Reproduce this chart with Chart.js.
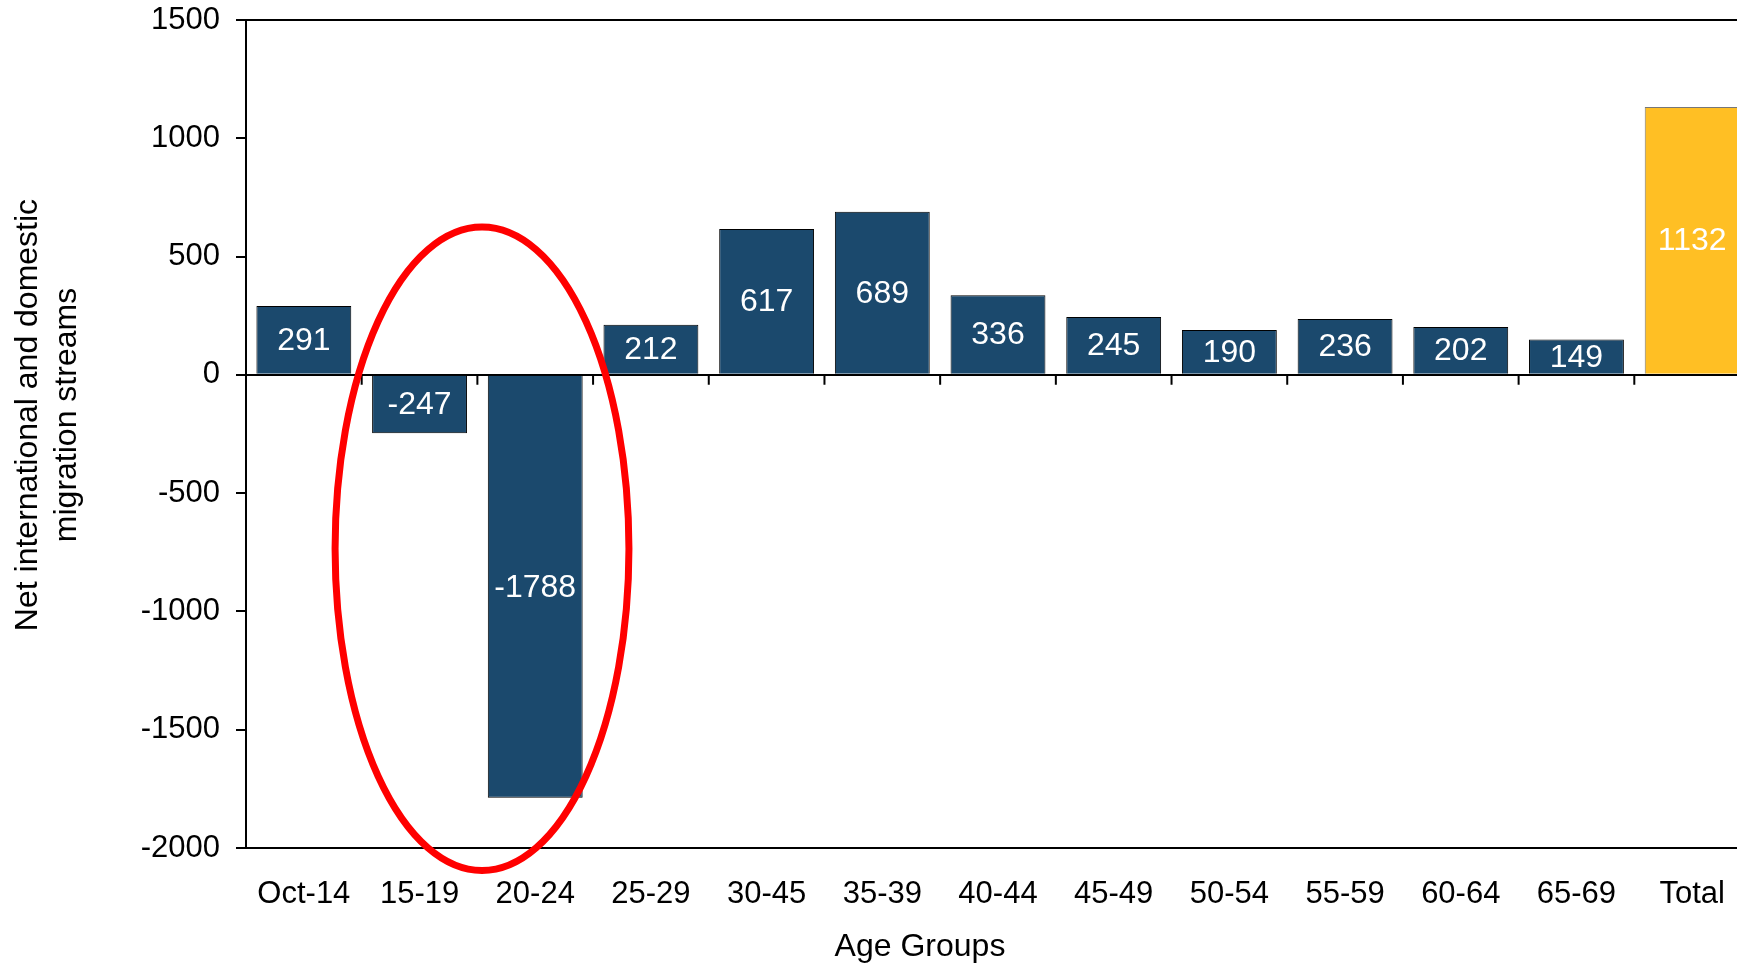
<!DOCTYPE html>
<html>
<head>
<meta charset="utf-8">
<script src="https://cdn.jsdelivr.net/npm/chart.js@4.4.0/dist/chart.umd.min.js"></script>
<style>
  html, body { margin: 0; padding: 0; background: #fff; overflow: hidden; }
  #wrap { width: 1750px; height: 966px; }
</style>
</head>
<body>
<div id="wrap"><canvas id="migrationChart"></canvas></div>
<script>
const ageGroups = ["Oct-14", "15-19", "20-24", "25-29", "30-45", "35-39", "40-44",
  "45-49", "50-54", "55-59", "60-64", "65-69", "Total"];
const netMigration = [291, -247, -1788, 212, 617, 689, 336, 245, 190, 236, 202, 149, 1132];
const yMin = -2000;
const yMax = 1500;
const yStep = 500;

// red ring round the 15-19 / 20-24 bars, in category index and value units
const ringCenter = [1.54, -735];
const ringRadius = [1.27, 1360];

const FONT = '"Liberation Sans", Arial, sans-serif';
Chart.defaults.font.family = FONT;
Chart.defaults.color = '#000';

const barLabels = {
  id: 'barLabels',
  afterDatasetsDraw(chart) {
    const ctx = chart.ctx;
    const meta = chart.getDatasetMeta(0);
    ctx.save();
    ctx.fillStyle = '#fff';
    ctx.font = '32px ' + FONT;
    ctx.textAlign = 'center';
    ctx.textBaseline = 'middle';
    meta.data.forEach((bar, i) => {
      const c = bar.getCenterPoint();
      ctx.fillText(String(netMigration[i]), c.x, c.y + 1);
    });
    ctx.restore();
  }
};

// category tick marks hang down from the zero line
const zeroTicks = {
  id: 'zeroTicks',
  afterDatasetsDraw(chart) {
    const { ctx, scales: { x, y } } = chart;
    const y0 = y.getPixelForValue(0);
    ctx.save();
    ctx.strokeStyle = '#000';
    ctx.lineWidth = 2;
    ctx.beginPath();
    for (let i = 1; i < ageGroups.length; i++) {
      const px = (x.getPixelForValue(i - 1) + x.getPixelForValue(i)) / 2;
      ctx.moveTo(px, y0);
      ctx.lineTo(px, y0 + 10);
    }
    ctx.stroke();
    ctx.restore();
  }
};

const ring = {
  id: 'ring',
  afterDatasetsDraw(chart) {
    const { ctx, scales: { x, y } } = chart;
    const cx = x.getPixelForValue(ringCenter[0]);
    const cy = y.getPixelForValue(ringCenter[1]);
    const rx = x.getPixelForValue(ringCenter[0] + ringRadius[0]) - cx;
    const ry = cy - y.getPixelForValue(ringCenter[1] + ringRadius[1]);
    ctx.save();
    ctx.strokeStyle = '#ff0000';
    ctx.lineWidth = 7;
    ctx.beginPath();
    ctx.ellipse(cx, cy, rx, ry, 0, 0, Math.PI * 2);
    ctx.stroke();
    ctx.restore();
  }
};

// axis titles sit off-centre in the original, so they are placed by hand
const axisTitles = {
  id: 'axisTitles',
  afterDraw(chart) {
    const { ctx, chartArea } = chart;
    ctx.save();
    ctx.fillStyle = '#000';
    ctx.font = '32px ' + FONT;
    ctx.textAlign = 'center';
    ctx.textBaseline = 'middle';
    ctx.fillText('Age Groups', chartArea.left + 674, 947);
    ctx.translate(28, 415);
    ctx.rotate(-Math.PI / 2);
    ctx.fillText('Net international and domestic', 0, 0);
    ctx.fillText('migration streams', 0, 39);
    ctx.restore();
  }
};

const ctx = document.getElementById('migrationChart').getContext('2d');
new Chart(ctx, {
  type: 'bar',
  data: {
    labels: ageGroups,
    datasets: [{
      data: netMigration,
      backgroundColor: c => c.dataIndex === ageGroups.length - 1 ? '#FFBF24' : '#1B496D',
      borderColor: c => c.dataIndex === ageGroups.length - 1 ? '#777' : '#000',
      borderWidth: 1,
      barPercentage: 0.82,
      categoryPercentage: 1
    }]
  },
  options: {
    responsive: true,
    maintainAspectRatio: false,
    animation: false,
    layout: { padding: { top: 20, right: 0, bottom: 0, left: 0 } },
    plugins: {
      legend: { display: false },
      tooltip: { enabled: false }
    },
    scales: {
      x: {
        grid: { display: false },
        border: { color: '#000', width: 2 },
        ticks: { color: '#000', font: { size: 31 }, padding: 20, maxRotation: 0, autoSkip: false },
        afterFit(scale) { scale.height = 118; }
      },
      y: {
        min: yMin,
        max: yMax,
        ticks: {
          stepSize: yStep,
          color: '#000',
          font: { size: 31 },
          padding: 16,
          callback: v => String(v)
        },
        grid: {
          color: c => (c.tick && (c.tick.value === 0 || c.tick.value === yMax)) ? '#000' : 'rgba(0,0,0,0)',
          lineWidth: 2,
          tickColor: '#000',
          tickLength: 10,
          tickWidth: 2
        },
        border: { color: '#000', width: 2 },
        afterFit(scale) {
          scale.width = 246;
          scale.paddingTop = 0;
          scale.paddingBottom = 0;
        }
      }
    }
  },
  plugins: [barLabels, zeroTicks, ring, axisTitles]
});
</script>
</body>
</html>
